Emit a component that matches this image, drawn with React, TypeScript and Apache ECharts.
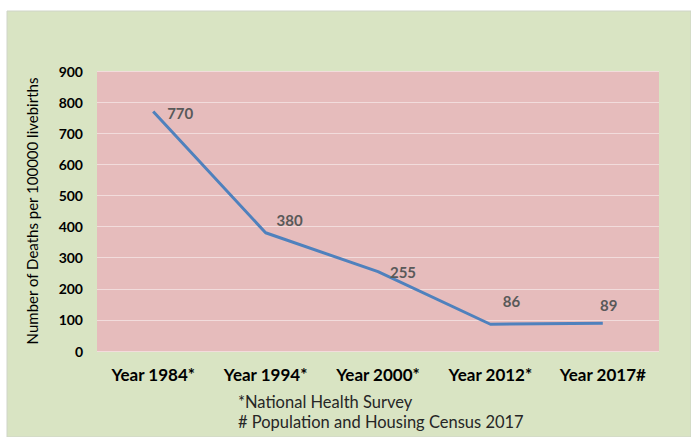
import React, { useEffect, useRef } from "react";
import * as echarts from "echarts";

const categories = ["Year 1984*", "Year 1994*", "Year 2000*", "Year 2012*", "Year 2017#"];
const deaths = [770, 380, 255, 86, 89];
const labelOffsets: [number, number][] = [[27, 2], [24, -13], [25, 0], [21, -23], [6, -18]];
const yTicks = { min: 0, max: 900, interval: 100 };
const footnotes = ["*National Health Survey", "# Population and Housing Census 2017"];
const yAxisTitle = "Number of Deaths per 100000 livebirths";

export default function App() {
  const ref = useRef<HTMLDivElement>(null);
  useEffect(() => {
    if (!ref.current) return;
    const chart = echarts.init(ref.current, null, { renderer: "svg" });
    const font = "Lato, 'Open Sans', sans-serif";
    chart.setOption({
      animation: false,
      backgroundColor: "#ffffff",
      textStyle: { fontFamily: font },
      graphic: [
        {
          type: "rect",
          z: -10,
          shape: { x: 7, y: 11, width: 684, height: 426 },
          style: { fill: "#d9e4c3", stroke: "#cfd4c8", lineWidth: 1 },
        },
        {
          type: "text",
          left: 238,
          top: 393,
          style: { text: footnotes[0], font: `16.5px ${font}`, fill: "#262626" },
        },
        {
          type: "text",
          left: 238,
          top: 413,
          style: { text: footnotes[1], font: `16.5px ${font}`, fill: "#262626" },
        },
      ],
      grid: {
        left: 97,
        top: 71,
        right: 32,
        bottom: 86,
        show: true,
        backgroundColor: "#e6bcbc",
        borderWidth: 0,
      },
      xAxis: {
        type: "category",
        data: categories,
        boundaryGap: true,
        axisLine: { show: false },
        axisTick: { show: false },
        axisLabel: {
          interval: 0,
          hideOverlap: false,
          color: "#000",
          fontWeight: "bold",
          fontSize: 17,
          margin: 15,
          fontFamily: font,
        },
      },
      yAxis: {
        type: "value",
        min: yTicks.min,
        max: yTicks.max,
        interval: yTicks.interval,
        name: yAxisTitle,
        nameLocation: "middle",
        nameRotate: 90,
        nameGap: 58,
        nameTextStyle: { color: "#000", fontSize: 15, fontFamily: font },
        axisLine: { show: false },
        axisTick: { show: false },
        axisLabel: { color: "#000", fontWeight: "bold", fontSize: 14, margin: 14, fontFamily: font },
        splitLine: { lineStyle: { color: "#f2dcdc", width: 1 } },
      },
      series: [
        {
          type: "line",
          data: deaths.map((v, i) => ({
            value: v,
            label: { offset: labelOffsets[i] },
          })),
          symbol: "circle",
          symbolSize: 0,
          lineStyle: { color: "#4f81bd", width: 3 },
          itemStyle: { color: "#4f81bd" },
          label: {
            show: true,
            position: "inside",
            color: "#595959",
            fontWeight: "bold",
            fontSize: 15,
            fontFamily: font,
          },
        },
      ],
    });
    return () => chart.dispose();
  }, []);
  return (
    <div
      ref={ref}
      style={{ position: "absolute", left: 0, top: 0, width: 691, height: 437 }}
    />
  );
}
